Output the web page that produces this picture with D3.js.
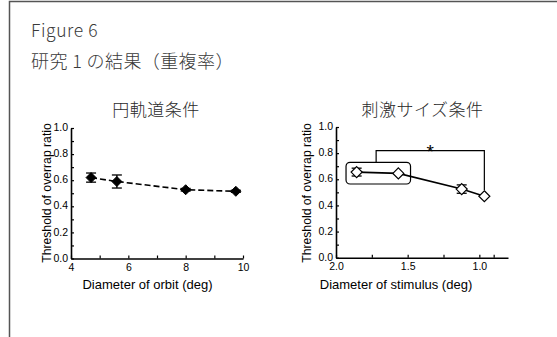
<!DOCTYPE html>
<html><head><meta charset="utf-8">
<script src="https://cdn.jsdelivr.net/npm/d3@7/dist/d3.min.js"></script>
<style>
html,body{margin:0;padding:0;background:#fff;}
svg{display:block;}
</style></head>
<body>
<svg id="c" width="557" height="337"></svg>
<script>
// ---- data ----
const figureLabel = "Figure 6";
const figureTitle = "研究 1 の結果（重複率）";
const leftTitle = "円軌道条件";
const rightTitle = "刺激サイズ条件";
const yLabel = "Threshold of overrap ratio";
const leftXLabel = "Diameter of orbit (deg)";
const rightXLabel = "Diameter of stimulus (deg)";

const leftX = [4.7, 5.6, 8.0, 9.75];
const leftY = [0.62, 0.59, 0.527, 0.515];
const leftErr = [0.035, 0.05, 0.01, 0.008];

const rightX = [1.856, 1.565, 1.123, 0.965];
const rightY = [0.655, 0.645, 0.525, 0.47];
const rightErr = [0.03, 0.0, 0.032, 0.0];

const yTicks = [0, 0.2, 0.4, 0.6, 0.8, 1.0];
const yMinor = [0.1, 0.3, 0.5, 0.7, 0.9];
const leftXTicks = [4, 6, 8, 10];
const leftXMinor = [5, 7, 9];
const rightXTicks = [2.0, 1.5, 1.0];
const rightXMinor = [1.75, 1.25, 0.9];

// significance bracket & grouping box (data units of right panel)
const bracketX = [1.72, 0.965];
const bracketTop = 0.82;
const bracketLeftBottom = 0.73;
const bracketRightBottom = 0.518;
const boxX = [1.93, 1.48];
const boxY = [0.73, 0.564];

// ---- drawing ----
const svg = d3.select("#c");
const FONT = "'Liberation Sans', Arial, sans-serif";
const CJK = "'Noto Sans CJK JP', sans-serif";

svg.append("path").attr("d", "M9.5,337V1.5H557").attr("fill","none")
  .attr("stroke","#555").attr("stroke-width",1.5);

svg.append("text").attr("x",31).attr("y",37).attr("font-family",CJK).attr("font-weight",300)
  .attr("font-size",17.5).attr("fill","#3a3a3a").attr("letter-spacing",0.6).text(figureLabel);
svg.append("text").attr("x",31).attr("y",68).attr("font-family",CJK).attr("font-weight",300)
  .attr("font-size",18).attr("fill","#3a3a3a").attr("letter-spacing",0.4).text(figureTitle);

function panel(cfg){
  const g = svg.append("g");
  const x = d3.scaleLinear().domain(cfg.xDomain).range(cfg.xRange);
  const y = d3.scaleLinear().domain([0,1]).range(cfg.yRange);
  const x0 = cfg.xRange[0], y0 = cfg.yRange[0];

  // axes
  const ax = g.append("g").attr("transform",`translate(0,${y0})`)
    .call(d3.axisBottom(x).tickValues(cfg.xTicks).tickFormat(cfg.xFmt).tickSizeInner(-3).tickSizeOuter(0).tickPadding(2));
  g.append("g").attr("transform",`translate(0,${y0})`)
    .call(d3.axisBottom(x).tickValues(cfg.xMinor).tickFormat("").tickSizeInner(-3).tickSizeOuter(0))
    .select(".domain").remove();
  const ay = g.append("g").attr("transform",`translate(${x0},0)`)
    .call(d3.axisLeft(y).tickValues(yTicks).tickFormat(d3.format(".1f")).tickSizeInner(-3).tickSizeOuter(0).tickPadding(3));
  g.append("g").attr("transform",`translate(${x0},0)`)
    .call(d3.axisLeft(y).tickValues(yMinor).tickFormat("").tickSizeInner(-3).tickSizeOuter(0))
    .select(".domain").remove();
  g.selectAll(".domain").attr("stroke","#000").attr("stroke-width",1.6);
  g.selectAll(".tick line").attr("stroke","#000").attr("stroke-width",1.2);
  g.selectAll(".tick text").attr("font-family",FONT).attr("font-size",10.5).attr("fill","#000");
  ax.selectAll(".tick text").attr("dy","1em");
  ay.selectAll(".tick text").attr("dy","0.25em");

  // titles and labels
  g.append("text").attr("x",cfg.titleX).attr("y",116).attr("text-anchor","middle").attr("font-weight",300)
    .attr("font-family",CJK).attr("font-size",17).attr("fill","#2a2a2a").attr("letter-spacing",0.5).text(cfg.title);
  g.append("text").attr("transform",`translate(${cfg.yLabelX},${cfg.yLabelY}) rotate(-90)`)
    .attr("text-anchor","middle").attr("font-family",FONT).attr("font-size",12.2).attr("fill","#000").text(yLabel);
  g.append("text").attr("x",cfg.xLabelX).attr("y",289).attr("text-anchor","middle")
    .attr("font-family",FONT).attr("font-size",13).attr("fill","#000").text(cfg.xLabel);

  if (cfg.extra) cfg.extra(g, x, y);

  const pts = cfg.xs.map((v,i)=>({x:v, y:cfg.ys[i], e:cfg.errs[i]}));
  // line
  g.append("path").datum(pts).attr("fill","none").attr("stroke","#000").attr("stroke-width",1.6)
    .attr("stroke-dasharray",cfg.dash || null)
    .attr("d", d3.line().x(d=>x(d.x)).y(d=>y(d.y)));
  // error bars
  const eb = g.selectAll(".eb").data(pts.filter(d=>d.e>0)).enter().append("g");
  eb.append("line").attr("x1",d=>x(d.x)).attr("x2",d=>x(d.x)).attr("y1",d=>y(d.y-d.e)).attr("y2",d=>y(d.y+d.e))
    .attr("stroke","#000").attr("stroke-width",1.3);
  [1,-1].forEach(s=>{
    eb.append("line").attr("x1",d=>x(d.x)-5).attr("x2",d=>x(d.x)+5)
      .attr("y1",d=>y(d.y+s*d.e)).attr("y2",d=>y(d.y+s*d.e)).attr("stroke","#000").attr("stroke-width",1.3);
  });
  // markers
  g.selectAll(".m").data(pts).enter().append("path")
    .attr("transform",d=>`translate(${x(d.x)},${y(d.y)})`)
    .attr("d", cfg.filled ? "M0,-5L5,0L0,5L-5,0Z" : "M0,-5.5L5.5,0L0,5.5L-5.5,0Z")
    .attr("fill", cfg.filled ? "#000" : "#fff").attr("stroke","#000").attr("stroke-width",cfg.filled?1:1.2);
}

panel({
  xDomain:[4,10], xRange:[71,243], yRange:[258.5,128],
  xTicks:leftXTicks, xMinor:leftXMinor, xFmt:d3.format("d"),
  title:leftTitle, titleX:156, yLabelX:51, yLabelY:193, xLabel:leftXLabel, xLabelX:147.5,
  xs:leftX, ys:leftY, errs:leftErr, filled:true, dash:"6,3"
});

panel({
  xDomain:[2.0,0.8], xRange:[336,508], yRange:[257.7,127],
  xTicks:rightXTicks, xMinor:rightXMinor, xFmt:d3.format(".1f"),
  title:rightTitle, titleX:422.5, yLabelX:311, yLabelY:193, xLabel:rightXLabel, xLabelX:396,
  xs:rightX, ys:rightY, errs:rightErr, filled:false,
  extra:(g,x,y)=>{
    g.append("rect").attr("x",x(boxX[0])).attr("y",y(boxY[0]))
      .attr("width",x(boxX[1])-x(boxX[0])).attr("height",y(boxY[1])-y(boxY[0]))
      .attr("rx",4).attr("fill","none").attr("stroke","#000").attr("stroke-width",1.2);
    g.append("path").attr("fill","none").attr("stroke","#000").attr("stroke-width",1.2)
      .attr("d",`M${x(bracketX[0])},${y(bracketLeftBottom)}V${y(bracketTop)}H${x(bracketX[1])}V${y(bracketRightBottom)}`);
    g.append("text").attr("x",(x(bracketX[0])+x(bracketX[1]))/2).attr("y",y(bracketTop)+7)
      .attr("text-anchor","middle").attr("font-family",FONT).attr("font-size",19).text("*");
  }
});
</script>
</body></html>
